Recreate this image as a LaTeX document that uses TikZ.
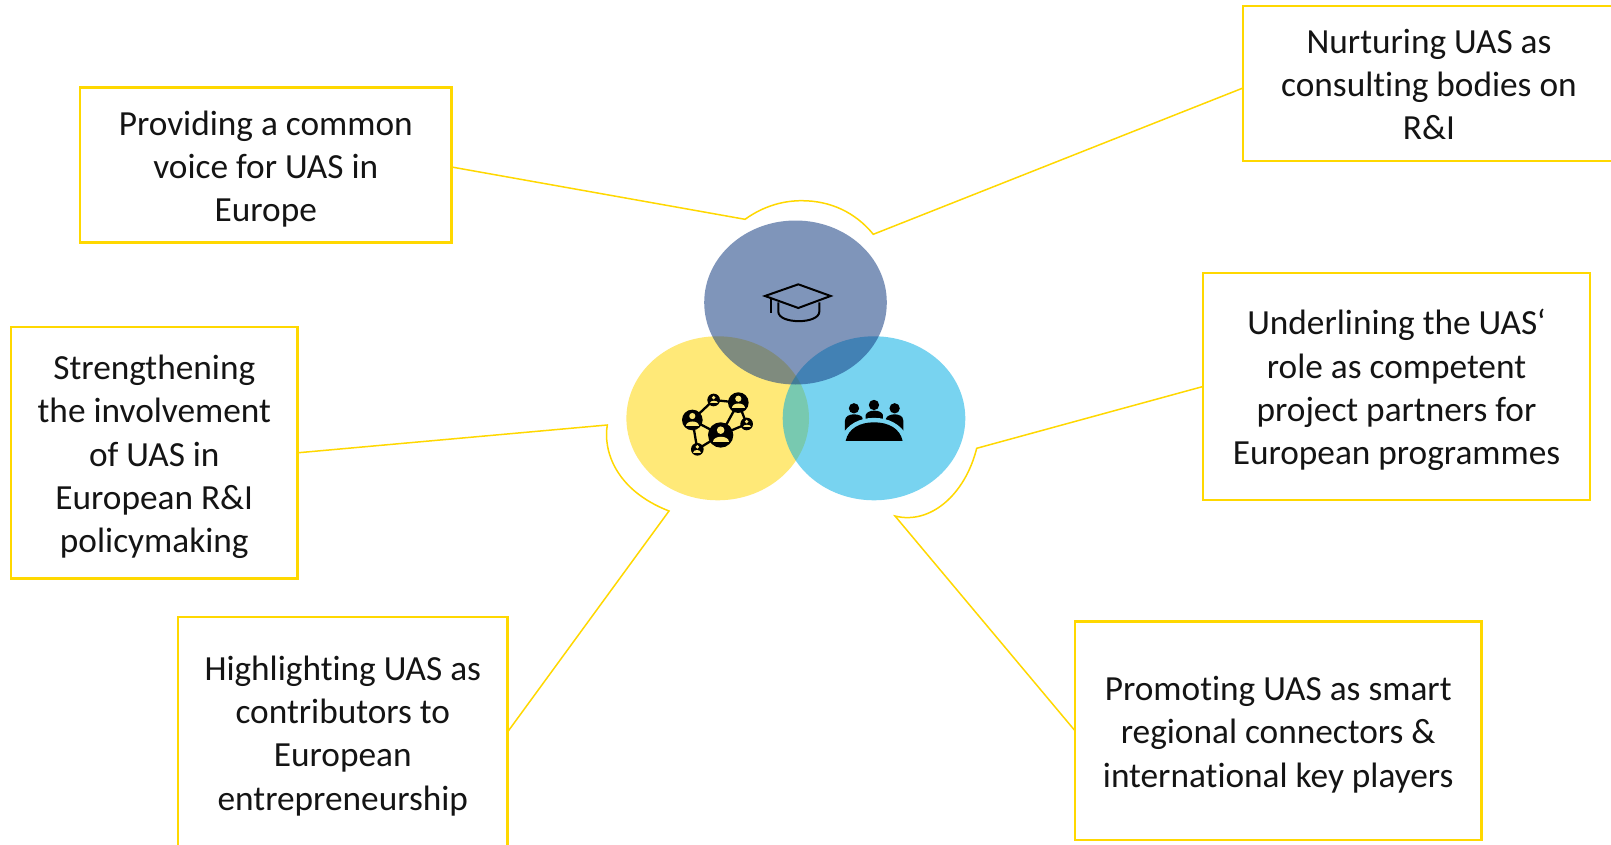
\documentclass[tikz,border=0pt]{standalone}
\usepackage{fontspec}
\setmainfont{Carlito}[Ligatures=NoCommon]
\usetikzlibrary{calc}
\definecolor{ylw}{HTML}{FFD800}
\definecolor{discY}{HTML}{FFD600}
\definecolor{cyn}{HTML}{00ADE3}
\definecolor{blu}{HTML}{163E83}
\definecolor{flatY}{HTML}{FBE677}
\definecolor{flatC}{HTML}{76D3F0}
\definecolor{txt}{HTML}{141414}
\newcommand\msgtext[1]{\raisebox{-10.8pt}[0pt][0pt]{\begin{tabular}{@{}c@{}}#1\end{tabular}}}
\tikzset{
  msgbox/.style={draw=ylw,line width=2.8pt,inner sep=0pt,outer sep=0pt,text=txt,
    font=\fontsize{35.3}{43.2}\selectfont},
  conn/.style={draw=ylw,line width=1.5pt,line join=miter},
  disc/.style={fill=#1,fill opacity=.53,draw=none},
  iconline/.style={draw=black,line width=2pt,line join=miter},
  netedge/.style={draw=black,line width=2.3pt},
}
\begin{document}
\begin{tikzpicture}[x=1pt,y=-1pt]
\useasboundingbox (0,0) rectangle (1611,845);
\clip (0,0) rectangle (1611,845);
\fill[white] (0,0) rectangle (1611,845);
% discs
\fill[disc=discY] (717.7,418.3) ellipse [x radius=91.3,y radius=82];
\fill[disc=cyn] (874,418.3) ellipse [x radius=91.3,y radius=82];
\fill[disc=blu,fill opacity=.55] (795.5,302.5) ellipse [x radius=91.3,y radius=82];
% boxes
\node[msgbox,minimum width=371.5pt,minimum height=155pt] (common) at (265.8,165) {\msgtext{Providing a common\\voice for UAS in\\Europe}};
\node[msgbox,minimum width=372pt,minimum height=155pt] (nurture) at (1429,83.5) {\msgtext{Nurturing UAS as\\consulting bodies on\\R\&I}};
\node[msgbox,minimum width=387pt,minimum height=227pt] (partner) at (1396.5,386.5) {\msgtext{Underlining the UAS‘\\role as competent\\project partners for\\European programmes}};
\node[msgbox,minimum width=286.5pt,minimum height=251.5pt] (policy) at (154.3,452.8) {\msgtext{Strengthening\\the involvement\\of UAS in\\European R\&I\\policymaking}};
\node[msgbox,minimum width=329.5pt,minimum height=230pt] (entre) at (342.8,732) {\msgtext{Highlighting UAS as\\contributors to\\European\\entrepreneurship}};
\node[msgbox,minimum width=406.5pt,minimum height=218.5pt] (region) at (1278.2,730.7) {\msgtext{Promoting UAS as smart\\regional connectors \&\\international key players}};
% connector outline coordinates
\coordinate (a1) at (745,219.3);
\coordinate (a2) at (801.7,200.7);
\coordinate (a3) at (873.3,234.3);
\coordinate (b1) at (607.3,425);
\coordinate (b2) at (669,511);
\coordinate (c1) at (976.7,448.3);
\coordinate (c2) at (895,516);
\draw[conn] ([yshift=-2pt]common.east) -- (a1) .. controls (765,205) and (785,200.7) .. (a2)
  .. controls (830,200.7) and (855,212) .. (a3) -- ([yshift=-4.5pt]nurture.west);
\draw[conn] (policy.east) -- (b1) .. controls (603,450) and (615,490) .. (b2) -- (entre.east);
\draw[conn] (partner.west) -- (c1) .. controls (965,495) and (930,525) .. (c2) -- (region.west);
% icons, in the coordinates of a 3x crop
\begin{scope}[shift={(600,180)},x=.3333pt,y=-.3333pt]
  % graduation cap
  \draw[iconline] (495,348) -- (595,313) -- (692,348) -- (595,384) -- cycle;
  \draw[iconline] (513,356) -- (513,400);
  \draw[iconline] (535,367) -- (535,395) .. controls (535,433) and (658,433) .. (658,395) -- (658,367);
  % network
  \draw[netedge] (277,720) -- (341,660) -- (415,668) -- (362,765) -- (277,720) -- (292,808) -- (362,765) -- (440,732) -- (415,668);
  \foreach \px/\py/\pr in {277/720/31,341/660/19,415/668/31,440/732/19,362/765/38,292/808/19}{
    \fill[black] (\px,\py) circle [radius=\pr];
    \fill[flatY] (\px,\py-.38*\pr) circle [radius=.3*\pr];
    \fill[flatY] (\px-.62*\pr,\py+.55*\pr) .. controls (\px-.62*\pr,\py-.02*\pr) and (\px+.62*\pr,\py-.02*\pr) .. (\px+.62*\pr,\py+.55*\pr) -- cycle;
  }
  % meeting table
  \fill[black] (762,685) circle [radius=15.5] (822,675) circle [radius=15.5] (884,685) circle [radius=15.5];
  \fill[black] (735,752) -- (735,722) .. controls (735,708) and (750,703) .. (762,703) .. controls (775,703) and (788,708) .. (788,716) -- (788,750) -- cycle;
  \fill[black] (797,740) -- (797,705) .. controls (800,696) and (812,692) .. (823,692) .. controls (835,692) and (846,696) .. (849,705) -- (849,740) -- cycle;
  \fill[black] (858,750) -- (858,716) .. controls (860,708) and (872,703) .. (884,703) .. controls (896,703) and (910,708) .. (910,722) -- (910,752) -- cycle;
  \fill[flatC,draw=flatC,line width=2.2pt] (728,790) -- (728,770) .. controls (745,735) and (780,717) .. (822,717) .. controls (865,717) and (900,735) .. (918,770) -- (918,790) -- cycle;
  \fill[black] (737,783) .. controls (745,745) and (780,727) .. (822,727) .. controls (865,727) and (900,745) .. (908,783) -- cycle;
\end{scope}
\end{tikzpicture}
\end{document}
